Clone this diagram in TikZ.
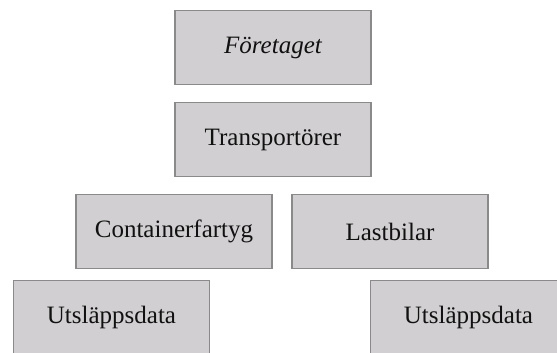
\documentclass[tikz,border=0pt]{standalone}
\usepackage{fontspec}
\setmainfont{Liberation Serif}
\definecolor{boxfill}{RGB}{209,207,209}
\definecolor{boxline}{RGB}{138,138,138}
\definecolor{ink}{RGB}{17,17,17}
\tikzset{
  orgbox/.style={rectangle, draw=boxline, fill=boxfill, line width=1.6pt,
    minimum width=196pt, minimum height=74pt, inner sep=0pt,
    text=ink, font=\fontsize{25}{30}\selectfont}
}
\begin{document}
\begin{tikzpicture}[x=1pt, y=-1pt]
  \useasboundingbox (0,0) rectangle (557,353);
  \clip (0,0) rectangle (557,353);
  \node[orgbox] (foretaget) at (273,47.5) {\itshape Företaget};
  \node[orgbox] (transp) at (273,139.5) {Transportörer};
  \node[orgbox] (container) at (174,231.5) {Containerfartyg};
  \node[orgbox] (lastbil) at (390,231.5) {Lastbilar};
  \node[orgbox] (utslappA) at (111.5,317.5) {Utsläppsdata};
  \node[orgbox] (utslappB) at (468.5,317.5) {Utsläppsdata};
\end{tikzpicture}
\end{document}
